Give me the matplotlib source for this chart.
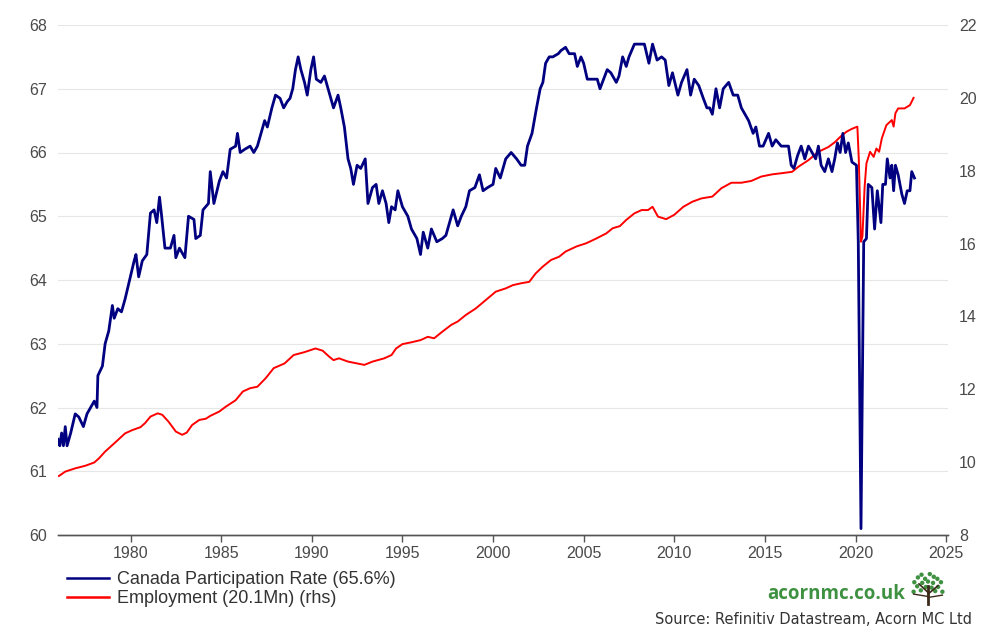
import matplotlib
matplotlib.use("Agg")
import matplotlib.pyplot as plt
import matplotlib.transforms as mtransforms
import numpy as np

# ---------------- data (decimal years) ----------------
part_years = [1976.0, 1976.1, 1976.2, 1976.3, 1976.4, 1976.5, 1976.7, 1976.95, 1977.15, 1977.4,
              1977.6, 1977.8, 1978.0, 1978.15, 1978.2, 1978.45, 1978.6, 1978.8, 1979.0, 1979.1,
              1979.3, 1979.5, 1979.7, 1979.95, 1980.2, 1980.3, 1980.45, 1980.65, 1980.9, 1981.1,
              1981.3, 1981.45, 1981.6, 1981.7, 1981.9, 1982.2, 1982.4, 1982.5, 1982.7, 1983.0,
              1983.2, 1983.5, 1983.6, 1983.85, 1984.0, 1984.3, 1984.4, 1984.6, 1984.9, 1985.1,
              1985.3, 1985.5, 1985.8, 1985.9, 1986.05, 1986.3, 1986.6, 1986.8, 1987.0, 1987.25,
              1987.4, 1987.55, 1987.8, 1988.0, 1988.25, 1988.45, 1988.65, 1988.8, 1988.95, 1989.1,
              1989.25, 1989.4, 1989.6, 1989.75, 1989.95, 1990.1, 1990.25, 1990.5, 1990.7, 1990.95,
              1991.2, 1991.45, 1991.6, 1991.8, 1992.0, 1992.15, 1992.3, 1992.5, 1992.7, 1992.95,
              1993.1, 1993.35, 1993.55, 1993.7, 1993.9, 1994.1, 1994.25, 1994.4, 1994.6, 1994.75,
              1995.0, 1995.3, 1995.5, 1995.8, 1996.0, 1996.15, 1996.4, 1996.6, 1996.9, 1997.2,
              1997.4, 1997.65, 1997.8, 1998.05, 1998.25, 1998.5, 1998.7, 1999.0, 1999.25, 1999.45,
              1999.7, 2000.0, 2000.15, 2000.4, 2000.7, 2001.0, 2001.3, 2001.55, 2001.75, 2001.9,
              2002.15, 2002.4, 2002.6, 2002.75, 2002.9, 2003.1, 2003.3, 2003.6, 2003.75, 2004.0,
              2004.2, 2004.5, 2004.65, 2004.85, 2005.0, 2005.2, 2005.5, 2005.75, 2005.9, 2006.1,
              2006.3, 2006.5, 2006.8, 2006.95, 2007.15, 2007.35, 2007.5, 2007.8, 2008.2, 2008.35,
              2008.6, 2008.8, 2009.05, 2009.3, 2009.5, 2009.7, 2009.9, 2010.2, 2010.4, 2010.7,
              2010.9, 2011.1, 2011.35, 2011.6, 2011.8, 2011.95, 2012.1, 2012.3, 2012.5, 2012.7,
              2013.0, 2013.25, 2013.5, 2013.7, 2013.9, 2014.1, 2014.35, 2014.5, 2014.7, 2014.9,
              2015.2, 2015.4, 2015.6, 2015.9, 2016.3, 2016.45, 2016.6, 2016.8, 2017.0, 2017.2,
              2017.4, 2017.6, 2017.8, 2017.95, 2018.1, 2018.3, 2018.5, 2018.7, 2018.85, 2019.0,
              2019.15, 2019.3, 2019.45, 2019.6, 2019.8, 2020.05, 2020.15, 2020.3, 2020.45, 2020.6,
              2020.7, 2020.9, 2021.05, 2021.2, 2021.4, 2021.5, 2021.65, 2021.75, 2021.9, 2022.0,
              2022.1, 2022.2, 2022.35, 2022.55, 2022.7, 2022.85, 2023.0, 2023.1, 2023.25]
part_rate = [61.5, 61.4, 61.6, 61.4, 61.7, 61.4, 61.6, 61.9, 61.85, 61.7,
             61.9, 62.0, 62.1, 62.0, 62.5, 62.65, 63.0, 63.2, 63.6, 63.4,
             63.55, 63.5, 63.7, 64.0, 64.3, 64.4, 64.05, 64.3, 64.4, 65.05,
             65.1, 64.9, 65.3, 65.05, 64.5, 64.5, 64.7, 64.35, 64.5, 64.35,
             65.0, 64.95, 64.65, 64.7, 65.1, 65.2, 65.7, 65.2, 65.55, 65.7,
             65.6, 66.05, 66.1, 66.3, 66.0, 66.05, 66.1, 66.0, 66.1, 66.35,
             66.5, 66.4, 66.7, 66.9, 66.85, 66.7, 66.8, 66.85, 67.0, 67.3,
             67.5, 67.3, 67.1, 66.9, 67.3, 67.5, 67.15, 67.1, 67.2, 66.95,
             66.7, 66.9, 66.7, 66.4, 65.9, 65.75, 65.5, 65.8, 65.75, 65.9,
             65.2, 65.45, 65.5, 65.2, 65.4, 65.2, 64.9, 65.15, 65.1, 65.4,
             65.15, 65.0, 64.8, 64.65, 64.4, 64.75, 64.5, 64.8, 64.6, 64.65,
             64.7, 64.95, 65.1, 64.85, 65.0, 65.15, 65.4, 65.45, 65.65, 65.4,
             65.45, 65.5, 65.75, 65.6, 65.9, 66.0, 65.9, 65.8, 65.8, 66.1,
             66.3, 66.7, 67.0, 67.1, 67.4, 67.5, 67.5, 67.55, 67.6, 67.65,
             67.55, 67.55, 67.35, 67.5, 67.4, 67.15, 67.15, 67.15, 67.0, 67.15,
             67.3, 67.25, 67.1, 67.2, 67.5, 67.35, 67.5, 67.7, 67.7, 67.7,
             67.4, 67.7, 67.45, 67.5, 67.45, 67.05, 67.25, 66.9, 67.1, 67.3,
             66.9, 67.15, 67.05, 66.85, 66.7, 66.7, 66.6, 67.0, 66.7, 67.0,
             67.1, 66.9, 66.9, 66.7, 66.6, 66.5, 66.3, 66.4, 66.1, 66.1,
             66.3, 66.1, 66.2, 66.1, 66.1, 65.8, 65.75, 65.95, 66.1, 65.9,
             66.1, 66.0, 65.9, 66.1, 65.8, 65.7, 65.9, 65.7, 65.9, 66.15,
             66.0, 66.3, 66.0, 66.15, 65.85, 65.8, 64.6, 60.1, 64.6, 64.65,
             65.5, 65.45, 64.8, 65.4, 64.9, 65.5, 65.5, 65.9, 65.6, 65.8,
             65.4, 65.8, 65.65, 65.35, 65.2, 65.4, 65.4, 65.7, 65.6]

emp_years = [1976.05, 1976.4, 1976.95, 1977.5, 1978.0, 1978.25, 1978.6, 1979.2, 1979.7, 1980.1,
             1980.55, 1980.8, 1981.1, 1981.5, 1981.75, 1982.1, 1982.5, 1982.85, 1983.1, 1983.4,
             1983.8, 1984.15, 1984.4, 1984.9, 1985.25, 1985.8, 1986.2, 1986.6, 1987.0, 1987.45,
             1987.9, 1988.5, 1989.0, 1989.6, 1990.2, 1990.6, 1990.95, 1991.2, 1991.5, 1992.0,
             1992.5, 1992.9, 1993.35, 1994.0, 1994.4, 1994.65, 1995.0, 1995.5, 1996.0, 1996.4,
             1996.75, 1997.2, 1997.7, 1998.05, 1998.5, 1999.05, 1999.6, 2000.15, 2000.7, 2001.1,
             2001.55, 2002.0, 2002.35, 2002.75, 2003.2, 2003.65, 2004.0, 2004.6, 2005.15, 2005.7,
             2006.25, 2006.6, 2007.0, 2007.35, 2007.8, 2008.2, 2008.55, 2008.8, 2009.1, 2009.55,
             2010.0, 2010.5, 2011.0, 2011.5, 2012.1, 2012.6, 2013.15, 2013.7, 2014.25, 2014.8,
             2015.4, 2015.9, 2016.5, 2016.85, 2017.4, 2017.95, 2018.5, 2018.85, 2019.2, 2019.5,
             2019.8, 2020.1, 2020.18, 2020.3, 2020.38, 2020.5, 2020.6, 2020.8, 2021.0, 2021.15,
             2021.3, 2021.45, 2021.7, 2022.0, 2022.1, 2022.2, 2022.35, 2022.7, 2023.0, 2023.2]
employment = [9.62, 9.74, 9.83, 9.9, 9.99, 10.1, 10.29, 10.56, 10.79, 10.88,
              10.96, 11.07, 11.25, 11.34, 11.3, 11.11, 10.84, 10.75, 10.81, 11.02,
              11.16, 11.19, 11.27, 11.39, 11.52, 11.7, 11.94, 12.03, 12.07, 12.3,
              12.58, 12.71, 12.94, 13.02, 13.12, 13.06, 12.9, 12.8, 12.85, 12.76,
              12.71, 12.67, 12.76, 12.85, 12.94, 13.12, 13.24, 13.29, 13.35, 13.44,
              13.4, 13.58, 13.77, 13.86, 14.04, 14.22, 14.45, 14.68, 14.77, 14.86,
              14.91, 14.95, 15.18, 15.37, 15.55, 15.64, 15.78, 15.92, 16.01, 16.14,
              16.28, 16.42, 16.48, 16.65, 16.83, 16.92, 16.92, 17.01, 16.74, 16.67,
              16.79, 17.01, 17.15, 17.24, 17.29, 17.52, 17.67, 17.67, 17.72, 17.84,
              17.9, 17.93, 17.97, 18.11, 18.29, 18.52, 18.65, 18.78, 18.95, 19.07,
              19.15, 19.21, 18.3, 16.05, 16.2, 17.56, 18.2, 18.52, 18.38, 18.61,
              18.52, 18.89, 19.25, 19.39, 19.21, 19.58, 19.71, 19.71, 19.8, 20.0]

x_ticks = [1980, 1985, 1990, 1995, 2000, 2005, 2010, 2015, 2020, 2025]
left_ticks = [60, 61, 62, 63, 64, 65, 66, 67, 68]
right_ticks = [8, 10, 12, 14, 16, 18, 20, 22]

label_part = "Canada Participation Rate (65.6%)"
label_emp = "Employment (20.1Mn) (rhs)"

# ---------------- figure ----------------
plt.rcParams['font.family'] = ['Liberation Sans', 'DejaVu Sans']
W, H = 996, 643
fig = plt.figure(figsize=(W / 100, H / 100), dpi=100)
ax = fig.add_axes([58 / W, (H - 535) / H, (948 - 58) / W, (535 - 25) / H])
ax2 = ax.twinx()

tick_col = '#4a4a4a'
ax.set_xlim(1976.0, 2025.1)
ax.set_ylim(60, 68)
ax2.set_ylim(8, 22)

ax.set_yticks(left_ticks)
ax.set_yticklabels([str(v) for v in left_ticks])
ax2.set_yticks(right_ticks)
ax2.set_yticklabels([str(v) for v in right_ticks])
ax.set_xticks(x_ticks)
ax.set_xticklabels([str(v) for v in x_ticks])

# gridlines at left-axis ticks, drawn in the bottom (rhs) axes so no line is covered
grid_tr = mtransforms.blended_transform_factory(ax2.transAxes, ax.transData)
for v in left_ticks[1:]:
    ax2.plot([0, 1], [v, v], transform=grid_tr, color='#e6e6e6', lw=0.8, zorder=0.5)

for a in (ax, ax2):
    for s in ('top', 'left', 'right'):
        a.spines[s].set_visible(False)
    a.spines['bottom'].set_color('#555555')
    a.spines['bottom'].set_linewidth(1.0)

ax.tick_params(axis='y', length=0, pad=8, labelsize=11.5, labelcolor=tick_col)
ax2.tick_params(axis='y', length=0, pad=8, labelsize=11.5, labelcolor=tick_col)
ax.tick_params(axis='x', length=5, width=1, color='#555555', direction='out',
               pad=3, labelsize=11.5, labelcolor=tick_col)

ln2, = ax2.plot(emp_years, employment, color='#ff0000', lw=1.4, label=label_emp,
                solid_joinstyle='round', zorder=2)
ln1, = ax.plot(part_years, part_rate, color='#000080', lw=2.0, label=label_part,
               solid_joinstyle='round')
ax.set_zorder(ax2.get_zorder() + 1)
ax.patch.set_visible(False)

leg = fig.legend(handles=[ln1, ln2], labels=[label_part, label_emp],
                 loc='upper left', bbox_to_anchor=(67 / W, 1 - 571 / H),
                 frameon=False, fontsize=13, handlelength=2.3, handletextpad=0.45,
                 labelspacing=0.12, borderaxespad=0, borderpad=0)
for t in leg.get_texts():
    t.set_color('#333333')
for h in leg.legend_handles:
    h.set_linewidth(1.8)

# logo text and source
fig.text(905 / W, 1 - 594 / H, "acornmc.co.uk", color='#3f9142', fontsize=13.5,
         fontweight='bold', ha='right', va='center', family=['Open Sans', 'DejaVu Sans'])
fig.text(972 / W, 1 - 620 / H, "Source: Refinitiv Datastream, Acorn MC Ltd",
         color='#333333', fontsize=10.5, ha='right', va='center',
         family=['DejaVu Sans'])

# small tree icon
tax = fig.add_axes([910 / W, 1 - 606 / H, 36 / W, 34 / H])
tax.set_xlim(0, 10)
tax.set_ylim(0, 10)
tax.axis('off')
tax.plot([5, 5], [0.5, 6], color='#3b2a1a', lw=2)
tax.plot([5, 2.5], [4, 6.5], color='#3b2a1a', lw=1.2)
tax.plot([5, 7.8], [3.5, 6.0], color='#3b2a1a', lw=1.2)
tax.plot([5, 1.0], [2.8, 3.5], color='#3b2a1a', lw=1.0)
tax.plot([5, 9.0], [2.5, 3.2], color='#3b2a1a', lw=1.0)
lx = [1.2, 2.2, 3.2, 4.2, 5.5, 6.6, 7.6, 8.6, 2.0, 3.4, 5.0, 6.4, 7.8, 1.0, 9.0, 4.4, 6.0, 3.0, 7.0]
ly = [7.0, 8.4, 9.2, 8.0, 9.4, 8.6, 8.0, 7.0, 5.8, 6.8, 7.2, 6.8, 5.6, 4.2, 4.2, 5.6, 5.4, 4.6, 4.4]
tax.scatter(lx, ly, s=10, color='#3f9142', edgecolors='none')

fig.savefig('out.png', dpi=100, facecolor='white')
